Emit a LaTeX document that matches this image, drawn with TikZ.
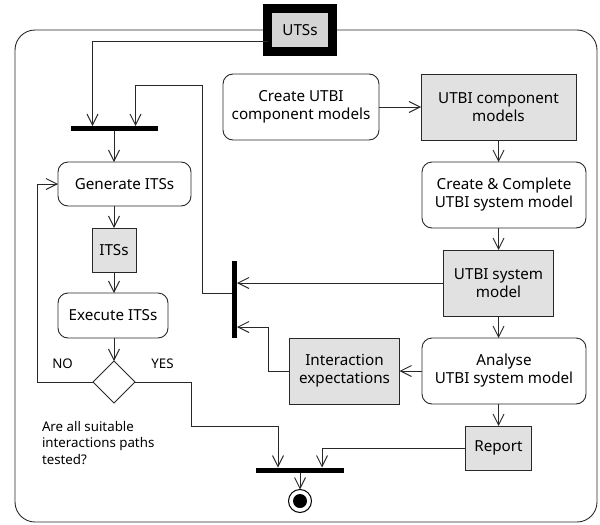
\documentclass[tikz,border=0pt]{standalone}
\usepackage{fontspec}
\setmainfont{Noto Sans}
\usetikzlibrary{arrows.meta,shapes.geometric}
\definecolor{objfill}{RGB}{225,225,225}
\definecolor{pinfill}{RGB}{212,212,212}
\definecolor{ink}{RGB}{40,40,40}
\tikzset{
  every node/.style={inner sep=0pt, outer sep=0pt},
  txt/.style={font=\fontsize{15.2}{18}\selectfont, align=center, text=black},
  small/.style={font=\fontsize{13.3}{16.5}\selectfont, text=black},
  action/.style={txt, draw=ink, line width=0.9pt, rounded corners=10pt, fill=white},
  object/.style={txt, draw=ink, line width=0.9pt, fill=objfill},
  bar/.style={fill=black, draw=none},
  decision/.style={diamond, draw=ink, line width=0.9pt, fill=white, minimum width=42pt, minimum height=42pt},
  flow/.style={draw=ink, line width=0.9pt, -{Straight Barb[length=11pt,width=11pt,line width=0.9pt]}},
}
\begin{document}
\begin{tikzpicture}[x=1pt, y=-1pt]
\useasboundingbox (0,0) rectangle (600,525);

% activity frame
\draw[ink, line width=0.9pt, rounded corners=20pt] (15,30) rectangle (597,522);

% input pin
\node[txt, draw=black, line width=9pt, fill=pinfill, minimum width=65pt, minimum height=43pt] (utss) at (300,30) {UTSs};

% left column
\node[bar, minimum width=87pt, minimum height=5pt] (fork1) at (114,128.5) {};
\node[action, minimum width=133pt, minimum height=44pt] (gen) at (124.5,184) {Generate ITSs};
\node[object, minimum width=44pt, minimum height=44pt] (its) at (114,250) {ITSs};
\node[action, minimum width=110pt, minimum height=45pt] (exec) at (113,315.5) {Execute ITSs};
\node[decision] (dia) at (114,382) {};
\node[small] (no) at (62.5,364) {NO};
\node[small] (yes) at (162.5,364) {YES};
\node[small, align=left, anchor=north west] (question) at (42,421) {Are all suitable\\interactions paths\\tested?};

% right column
\node[action, minimum width=156pt, minimum height=66pt] (create) at (301,107) {Create UTBI\\component models};
\node[object, minimum width=155pt, minimum height=66pt] (comp) at (498.5,107) {UTBI component\\models};
\node[action, minimum width=164pt, minimum height=66pt] (cc) at (504,195) {Create \& Complete\\UTBI system model};
\node[object, minimum width=110pt, minimum height=66pt] (sys) at (498.5,283) {UTBI system\\model};
\node[action, minimum width=164pt, minimum height=66pt] (analyse) at (504,371) {Analyse\\UTBI system model};
\node[object, minimum width=110pt, minimum height=66pt] (ie) at (344.5,371) {Interaction\\expectations};
\node[object, minimum width=66pt, minimum height=44pt] (report) at (498.5,448) {Report};

% join bars and final node
\node[bar, minimum width=5pt, minimum height=77pt] (fork2) at (234.5,299.5) {};
\node[bar, minimum width=88pt, minimum height=5pt] (fork3) at (300,470) {};
\node[circle, draw=black, line width=1pt, fill=white, minimum size=23pt] (final) at (300,501) {};
\fill[black] (final.center) circle (7pt);

% bend points
\coordinate (loopc) at (202,85);
\coordinate (iec) at (268,327);
\coordinate (noc) at (37,184);
\coordinate (yesc) at (191,426);

% flows
\draw[flow] ([yshift=-11pt]utss.west) -| ([xshift=-21.5pt]fork1.north);
\draw[flow] ([yshift=6.5pt]fork2.west) -| (loopc) -| ([xshift=21.5pt]fork1.north);
\draw[flow] (fork1.south) -- (fork1.south |- gen.north);
\draw[flow] (its.north |- gen.south) -- (its.north);
\draw[flow] (its.south) -- (its.south |- exec.north);
\draw[flow] (dia.north |- exec.south) -- (dia.north);
\draw[flow] (dia.west) -| (noc) -- (gen.west);
\draw[flow] (dia.east) -| (yesc) -| ([xshift=-22pt]fork3.north);

\draw[flow] (create.east |- comp.west) -- (comp.west);
\draw[flow] (comp.south) -- (comp.south |- cc.north);
\draw[flow] (sys.north |- cc.south) -- (sys.north);
\draw[flow] (sys.south) -- (sys.south |- analyse.north);
\draw[flow] (analyse.west) -- (ie.east);
\draw[flow] (report.north |- analyse.south) -- (report.north);

\draw[flow] (sys.west) -- (sys.west -| fork2.east);
\draw[flow] (ie.west) -| (iec) -- (iec -| fork2.east);
\draw[flow] (report.west) -| ([xshift=22pt]fork3.north);
\draw[flow] (fork3.south) -- (final.north);
\end{tikzpicture}
\end{document}
